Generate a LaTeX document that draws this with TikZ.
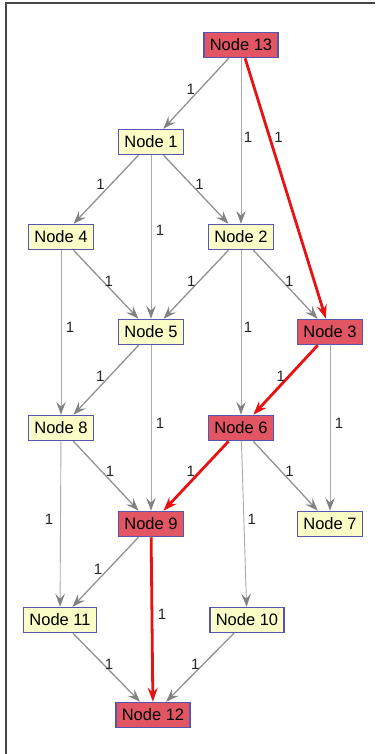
\documentclass[tikz,border=0pt]{standalone}
\usepackage{fontspec}
\setmainfont{Liberation Sans}
\usetikzlibrary{arrows.meta}
\definecolor{nodeyellow}{RGB}{252,252,198}
\definecolor{nodered}{RGB}{226,86,100}
\definecolor{nodeborder}{RGB}{86,86,176}
\definecolor{edgegray}{RGB}{145,145,145}
\definecolor{vertgray}{RGB}{170,170,170}
\definecolor{tipgray}{RGB}{130,130,130}
\definecolor{pathred}{RGB}{232,18,18}
\definecolor{framegray}{RGB}{70,70,70}
\tikzset{
  vbox/.style={draw=nodeborder, line width=1.5pt, fill=nodeyellow,
    font=\fontsize{16.5}{18}\selectfont, inner xsep=6pt, inner ysep=0pt,
    minimum height=25pt, text height=12pt, text depth=0.3pt},
  vred/.style={vbox, fill=nodered},
  gedge/.style={draw=edgegray, line width=1.3pt,
    -{Stealth[length=13pt,width=9.5pt,inset=5pt,color=tipgray]}},
  gvert/.style={gedge, draw=vertgray, line width=0.9pt},
  redge/.style={draw=pathred, line width=2.8pt,
    -{Stealth[length=14pt,width=10pt,inset=5pt]}},
  lbl/.style={font=\fontsize{15}{16}\selectfont, inner sep=0pt, text=black!85}
}
\begin{document}
\begin{tikzpicture}[x=1pt,y=-1pt]
\useasboundingbox (0,0) rectangle (375,754);
\fill[white] (0,0) rectangle (375,754);
\draw[framegray, line width=1.6pt] (375,3) -- (6,3) -- (6,754);

\node[vred] (n13) at (241,45) {Node 13};
\node[vbox] (n1) at (151,142) {Node 1};
\node[vbox] (n4) at (61,237) {Node 4};
\node[vbox] (n2) at (241,237) {Node 2};
\node[vbox] (n5) at (151,332) {Node 5};
\node[vred] (n3) at (330,332) {Node 3};
\node[vbox] (n8) at (61,428) {Node 8};
\node[vred] (n6) at (241,428) {Node 6};
\node[vred] (n9) at (151,524) {Node 9};
\node[vbox] (n7) at (330,524) {Node 7};
\node[vbox] (n11) at (60,620) {Node 11};
\node[vbox] (n10) at (247,620) {Node 10};
\node[vred] (n12) at (153,715) {Node 12};

\draw[gedge] (n13) -- node[lbl, pos=0.443, xshift=-9pt] {1} (n1);
\draw[gvert] (n13) -- node[lbl, pos=0.48, xshift=7pt] {1} (n2);
\draw[gedge] (n1) -- node[lbl, pos=0.43, xshift=-10pt] {1} (n4);
\draw[gedge] (n1) -- node[lbl, pos=0.43, xshift=8pt] {1} (n2);
\draw[gvert] (n1) -- node[lbl, pos=0.46, xshift=9pt] {1} (n5);
\draw[gedge] (n4) -- node[lbl, pos=0.45, xshift=6pt] {1} (n5);
\draw[gedge] (n2) -- node[lbl, pos=0.45, xshift=-8pt] {1} (n5);
\draw[gedge] (n2) -- node[lbl, pos=0.45, xshift=7pt] {1} (n3);
\draw[gvert] (n4) -- node[lbl, pos=0.47, xshift=9pt] {1} (n8);
\draw[gvert] (n2) -- node[lbl, pos=0.47, xshift=7pt] {1} (n6);
\draw[gedge] (n5) -- node[lbl, pos=0.45, xshift=-9pt] {1} (n8);
\draw[gvert] (n5) -- node[lbl, pos=0.47, xshift=9pt] {1} (n9);
\draw[gvert] (n3) -- node[lbl, pos=0.47, xshift=9pt] {1} (n7);
\draw[gedge] (n8) -- node[lbl, pos=0.44, xshift=8pt] {1} (n9);
\draw[gedge] (n6) -- node[lbl, pos=0.44, xshift=8pt] {1} (n7);
\draw[gvert] (n8) -- node[lbl, pos=0.47, xshift=-11.5pt] {1} (n11);
\draw[gvert] (n6) -- node[lbl, pos=0.47, xshift=8pt] {1} (n10);
\draw[gedge] (n9) -- node[lbl, pos=0.46, xshift=-10pt] {1} (n11);
\draw[gedge] (n11) -- node[lbl, pos=0.45, xshift=6pt] {1} (n12);
\draw[gedge] (n10) -- node[lbl, pos=0.45, xshift=-8pt] {1} (n12);

\draw[redge] (n13) -- node[lbl, pos=0.303, xshift=9pt] {1} (n3);
\draw[redge] (n3) -- node[lbl, pos=0.45, xshift=-8pt] {1} (n6);
\draw[redge] (n6) -- node[lbl, pos=0.44, xshift=-9pt] {1} (n9);
\draw[redge] (n9) -- node[lbl, pos=0.466, xshift=10pt] {1} (n12);
\end{tikzpicture}
\end{document}
